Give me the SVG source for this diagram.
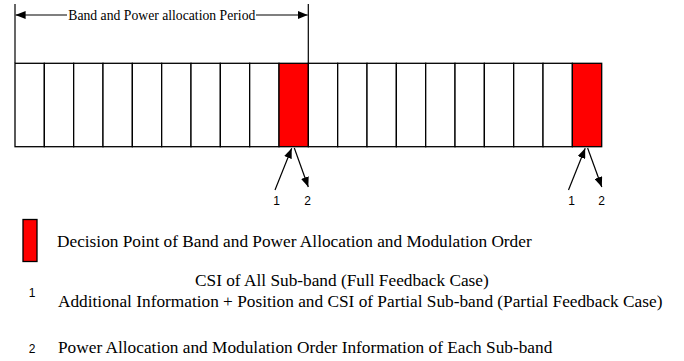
<svg xmlns="http://www.w3.org/2000/svg" width="684" height="361" viewBox="0 0 684 361">
<style>
.ln{stroke:#000;stroke-width:1.2;fill:none}
.cell{fill:#fff;stroke:#000;stroke-width:1.3}
.red{fill:#ff0000;stroke:#000;stroke-width:1.3}
.ser{font-family:"Liberation Serif","Times New Roman",serif;fill:#000}
.san{font-family:"Liberation Sans",Arial,sans-serif;fill:#000;font-size:12px}
</style>
<defs>
<marker id="ah" viewBox="0 0 10 8" refX="10" refY="4" markerWidth="10" markerHeight="8" markerUnits="userSpaceOnUse" orient="auto">
<path d="M0,0 L10,4 L0,8 Z" fill="#000"/>
</marker>
</defs>
<rect width="684" height="361" fill="#fff"/>
<g id="period">
<line class="ln" x1="15" y1="4" x2="15" y2="63"/>
<line class="ln" x1="308.3" y1="4" x2="308.3" y2="63"/>
<line class="ln" x1="67" y1="15" x2="15.6" y2="15" marker-end="url(#ah)"/>
<line class="ln" x1="256" y1="15" x2="307.7" y2="15" marker-end="url(#ah)"/>
<text class="ser" x="68.3" y="19.5" font-size="13.7">Band and Power allocation Period</text>
</g>
<g id="frames">
<rect class="cell" x="15" y="63.3" width="29.335" height="83.4"/>
<rect class="cell" x="44.335" y="63.3" width="29.335" height="83.4"/>
<rect class="cell" x="73.67" y="63.3" width="29.335" height="83.4"/>
<rect class="cell" x="103.005" y="63.3" width="29.335" height="83.4"/>
<rect class="cell" x="132.34" y="63.3" width="29.335" height="83.4"/>
<rect class="cell" x="161.675" y="63.3" width="29.335" height="83.4"/>
<rect class="cell" x="191.01" y="63.3" width="29.335" height="83.4"/>
<rect class="cell" x="220.345" y="63.3" width="29.335" height="83.4"/>
<rect class="cell" x="249.68" y="63.3" width="29.335" height="83.4"/>
<rect class="red" x="279.015" y="63.3" width="29.335" height="83.4"/>
<rect class="cell" x="308.35" y="63.3" width="29.335" height="83.4"/>
<rect class="cell" x="337.685" y="63.3" width="29.335" height="83.4"/>
<rect class="cell" x="367.02" y="63.3" width="29.335" height="83.4"/>
<rect class="cell" x="396.355" y="63.3" width="29.335" height="83.4"/>
<rect class="cell" x="425.69" y="63.3" width="29.335" height="83.4"/>
<rect class="cell" x="455.025" y="63.3" width="29.335" height="83.4"/>
<rect class="cell" x="484.36" y="63.3" width="29.335" height="83.4"/>
<rect class="cell" x="513.695" y="63.3" width="29.335" height="83.4"/>
<rect class="cell" x="543.03" y="63.3" width="29.335" height="83.4"/>
<rect class="red" x="572.365" y="63.3" width="29.335" height="83.4"/>
</g>
<g id="connectors">
<line class="ln" x1="275" y1="190" x2="291.7" y2="148.3" marker-end="url(#ah)"/>
<line class="ln" x1="294.3" y1="148" x2="308.3" y2="187" marker-end="url(#ah)"/>
<line class="ln" x1="568.5" y1="190" x2="585.2" y2="148.3" marker-end="url(#ah)"/>
<line class="ln" x1="587.6" y1="148" x2="601.8" y2="187" marker-end="url(#ah)"/>
</g>
<g id="labels">
<text class="san" x="276.5" y="205" text-anchor="middle">1</text>
<text class="san" x="307.5" y="205" text-anchor="middle">2</text>
<text class="san" x="571.5" y="205" text-anchor="middle">1</text>
<text class="san" x="601.5" y="205" text-anchor="middle">2</text>
</g>
<g id="legend">
<rect class="red" x="23" y="219.5" width="14" height="42"/>
<text class="ser" x="57" y="247" font-size="17.3">Decision Point of Band and Power Allocation and Modulation Order</text>
<text class="san" x="32" y="297" text-anchor="middle">1</text>
<text class="ser" x="195" y="286" font-size="17.3">CSI of All Sub-band (Full Feedback Case)</text>
<text class="ser" x="58" y="306.5" font-size="17.3">Additional Information + Position and CSI of Partial Sub-band (Partial Feedback Case)</text>
<text class="san" x="32" y="353" text-anchor="middle">2</text>
<text class="ser" x="58" y="353" font-size="17.3">Power Allocation and Modulation Order Information of Each Sub-band</text>
</g>
</svg>
